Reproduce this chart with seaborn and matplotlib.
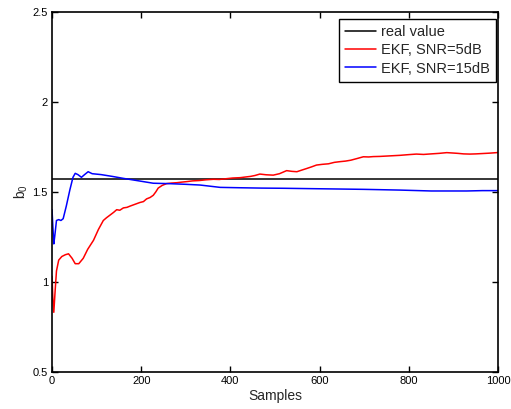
import numpy as np
import pandas as pd
import matplotlib
matplotlib.use("Agg")
import matplotlib.pyplot as plt
import seaborn as sns

# ---- data ----
real_value = 1.5708
x_limits = [0, 1000]

red_x = [0, 2, 4, 7, 10, 15, 22, 30, 37, 45, 52, 60, 70, 80, 93, 104, 115, 122, 130, 138,
         145, 152, 160, 168, 175, 186, 197, 205, 212, 220, 227, 233, 238, 247, 257, 268,
         280, 290, 302, 315, 330, 345, 362, 375, 390, 405, 422, 435, 445, 455, 466, 480,
         496, 510, 526, 538, 549, 560, 570, 582, 593, 606, 620, 633, 646, 658, 670, 685,
         698, 710, 720, 735, 750, 765, 780, 800, 817, 833, 850, 868, 885, 898, 910, 923,
         937, 950, 965, 980, 997, 1000]
red_y = [1.03, 0.90, 0.83, 0.95, 1.06, 1.12, 1.14, 1.15, 1.155, 1.13, 1.10, 1.10, 1.13, 1.18,
         1.23, 1.29, 1.34, 1.355, 1.37, 1.385, 1.40, 1.397, 1.41, 1.413, 1.42, 1.43, 1.44,
         1.445, 1.46, 1.468, 1.48, 1.50, 1.52, 1.535, 1.545, 1.548, 1.55, 1.553, 1.556,
         1.56, 1.562, 1.566, 1.569, 1.568, 1.572, 1.576, 1.578, 1.582, 1.585, 1.59, 1.598,
         1.594, 1.592, 1.60, 1.617, 1.613, 1.611, 1.62, 1.628, 1.638, 1.648, 1.652, 1.655,
         1.663, 1.667, 1.67, 1.675, 1.685, 1.694, 1.693, 1.695, 1.696, 1.698, 1.70, 1.702,
         1.706, 1.709, 1.707, 1.71, 1.713, 1.717, 1.715, 1.713, 1.71, 1.709, 1.71, 1.712,
         1.714, 1.717, 1.718]

blue_x = [0, 2, 4, 6, 10, 15, 20, 25, 32, 40, 47, 52, 58, 66, 73, 81, 90, 110, 135, 160,
          190, 227, 260, 300, 332, 377, 420, 470, 520, 578, 640, 700, 780, 850, 930, 965,
          997, 1000]
blue_y = [1.40, 1.30, 1.21, 1.25, 1.34, 1.345, 1.34, 1.35, 1.42, 1.51, 1.58, 1.602, 1.595,
          1.58, 1.595, 1.611, 1.60, 1.595, 1.585, 1.574, 1.562, 1.547, 1.545, 1.541, 1.537,
          1.524, 1.522, 1.52, 1.519, 1.517, 1.515, 1.513, 1.509, 1.504, 1.504, 1.506,
          1.506, 1.506]

labels = ["real value", "EKF, SNR=5dB", "EKF, SNR=15dB"]
colors = ["#000000", "#ff0000", "#0000ff"]

df = pd.concat([
    pd.DataFrame({"Samples": x_limits, "b": [real_value, real_value], "series": labels[0]}),
    pd.DataFrame({"Samples": red_x, "b": red_y, "series": labels[1]}),
    pd.DataFrame({"Samples": blue_x, "b": blue_y, "series": labels[2]}),
])

sns.set_style("ticks")
plt.rcParams["font.family"] = ["Liberation Sans", "DejaVu Sans"]
plt.rcParams["mathtext.fontset"] = "custom"
plt.rcParams["mathtext.rm"] = "Liberation Sans"
plt.rcParams["mathtext.it"] = "Liberation Sans"

fig = plt.figure(figsize=(5.11, 4.09), dpi=100)
ax = fig.add_axes([0.1018, 0.0912, 0.8728, 0.8802])

sns.lineplot(data=df, x="Samples", y="b", hue="series", palette=colors,
             hue_order=labels, linewidth=1.1, ax=ax, estimator=None, sort=False)

ax.set_xlim(0, 1000)
ax.set_ylim(0.5, 2.5)
ax.set_xticks([0, 200, 400, 600, 800, 1000])
ax.set_yticks([0.5, 1, 1.5, 2, 2.5])
ax.set_yticklabels(["0.5", "1", "1.5", "2", "2.5"])
ax.tick_params(direction="in", top=True, right=True, labelsize=8, length=4,
               width=1, colors="black", pad=3)
for sp in ax.spines.values():
    sp.set_visible(True)
    sp.set_linewidth(1.2)
    sp.set_color("black")

ax.set_xlabel("Samples", fontsize=10, labelpad=2)
ax.set_ylabel("b$_0$", fontsize=10, labelpad=2)

leg = ax.legend(loc="upper right", fontsize=10.5, frameon=True, fancybox=False,
                edgecolor="black", framealpha=1, handlelength=2.1, handletextpad=0.35,
                labelspacing=0.28, borderpad=0.42, borderaxespad=0,
                bbox_to_anchor=(0.9955, 0.979))
leg.get_frame().set_linewidth(1.0)

fig.savefig("out.png", dpi=100)
